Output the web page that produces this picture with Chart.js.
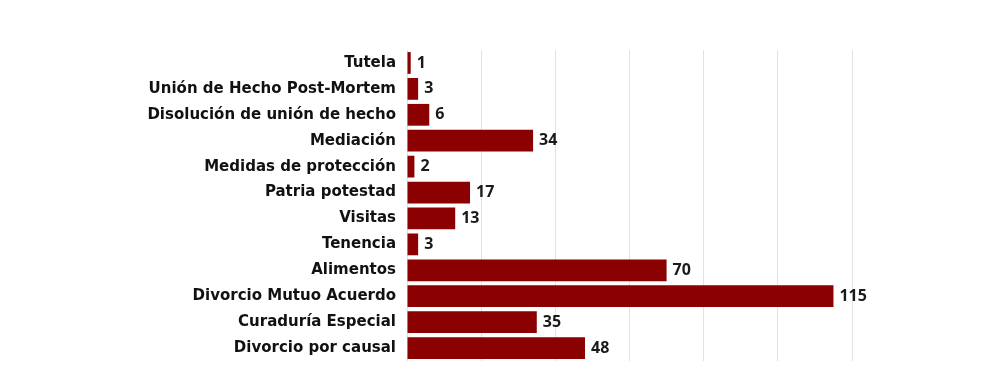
<!DOCTYPE html>
<html>
<head>
<meta charset="utf-8">
<script src="https://cdn.jsdelivr.net/npm/chart.js@4"></script>
<style>
html,body{margin:0;padding:0;background:#fff;overflow:hidden;}
#wrap{width:1000px;height:365px;position:relative;}
</style>
</head>
<body>
<div id="wrap"><canvas id="c" width="1000" height="365"></canvas></div>
<script>
const categories = [
  "Tutela",
  "Unión de Hecho Post-Mortem",
  "Disolución de unión de hecho",
  "Mediación",
  "Medidas de protección",
  "Patria potestad",
  "Visitas",
  "Tenencia",
  "Alimentos",
  "Divorcio Mutuo Acuerdo",
  "Curaduría Especial",
  "Divorcio por causal"
];
const values = [1, 3, 6, 34, 2, 17, 13, 3, 70, 115, 35, 48];
const axisMax = 120;
const axisStep = 20;

const LABEL_FONT = "'DejaVu Sans', sans-serif";
const VALUE_FONT = "'Open Sans', 'DejaVu Sans', sans-serif";

const valueLabels = {
  id: 'valueLabels',
  afterDatasetsDraw(chart) {
    const ctx = chart.ctx;
    const meta = chart.getDatasetMeta(0);
    ctx.save();
    ctx.font = "700 16px " + VALUE_FONT;
    ctx.fillStyle = '#1a1a1a';
    ctx.textAlign = 'left';
    ctx.textBaseline = 'middle';
    meta.data.forEach((bar, i) => {
      ctx.fillText(String(values[i]), bar.x + 6, bar.y);
    });
    ctx.restore();
  }
};

new Chart(document.getElementById('c'), {
  type: 'bar',
  data: {
    labels: categories,
    datasets: [{
      data: values,
      backgroundColor: '#8b0000',
      borderWidth: 0,
      barPercentage: 0.84,
      categoryPercentage: 1.0
    }]
  },
  options: {
    indexAxis: 'y',
    responsive: false,
    animation: false,
    layout: { padding: { top: 50, bottom: 4, right: 148, left: 0 } },
    plugins: { legend: { display: false }, tooltip: { enabled: false } },
    scales: {
      x: {
        min: 0, max: axisMax,
        ticks: { display: false, stepSize: axisStep },
        grid: { color: '#e2e2e2', lineWidth: 1, drawTicks: false },
        border: { display: false },
        afterFit(scale) { scale.height = 0; }
      },
      y: {
        grid: { display: false, drawTicks: false },
        border: { display: false },
        ticks: {
          color: '#111',
          padding: 11,
          font: { family: LABEL_FONT, size: 15, weight: '700' }
        },
        afterFit(scale) {
          scale.width = 407;
          scale.paddingTop = 0;
          scale.paddingBottom = 0;
        }
      }
    }
  },
  plugins: [valueLabels]
});
</script>
</body>
</html>
